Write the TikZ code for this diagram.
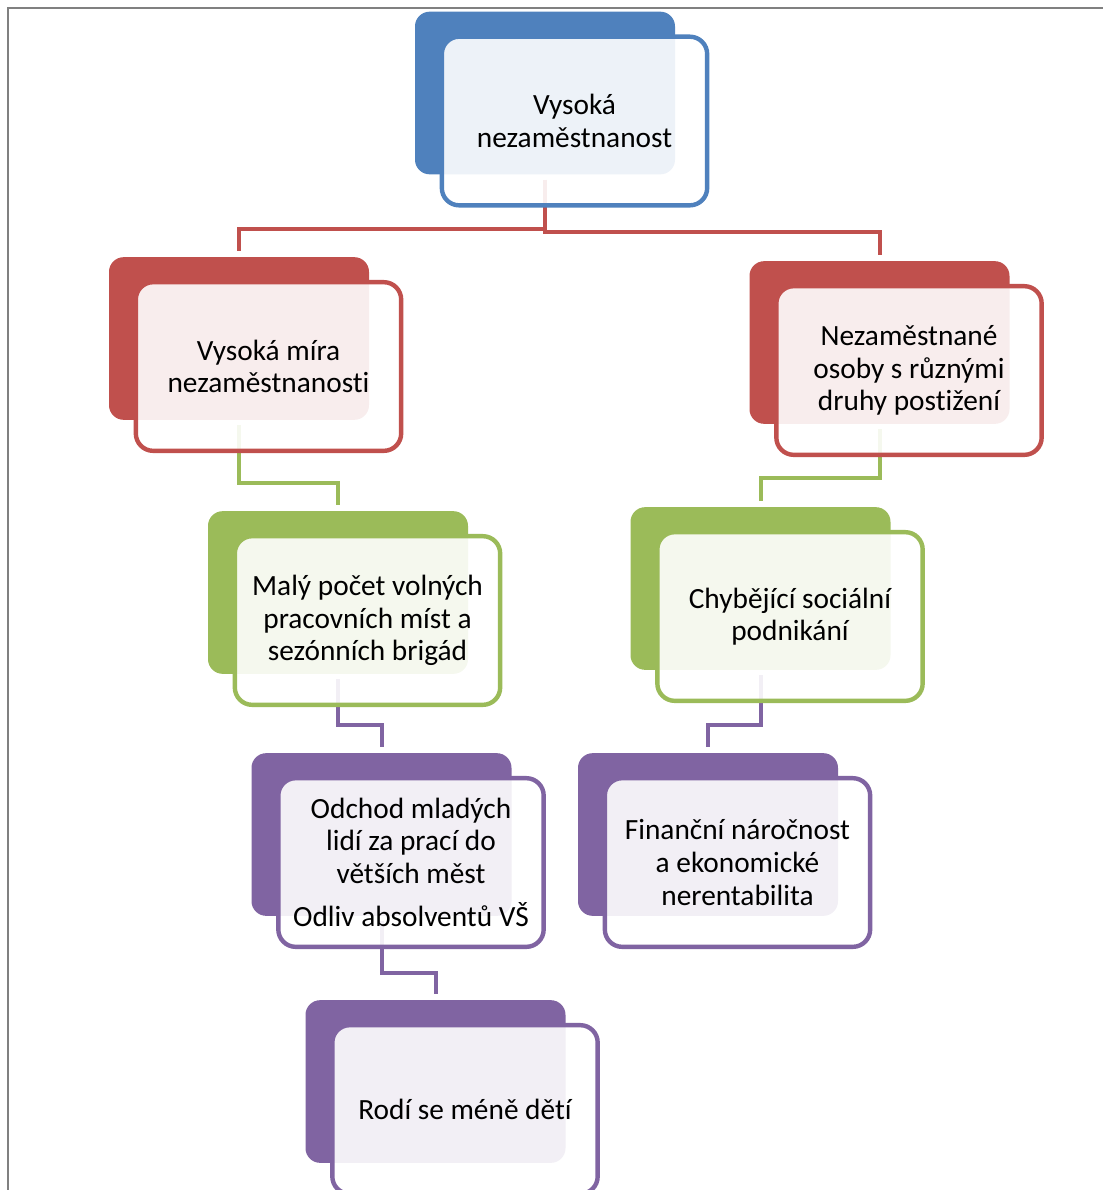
\documentclass[tikz,border=0pt]{standalone}
\usepackage{fontspec}
\setmainfont{Carlito}[Ligatures=NoCommon]
\definecolor{hblue}{HTML}{4F81BD}
\definecolor{hred}{HTML}{C0504D}
\definecolor{hgreen}{HTML}{9BBB59}
\definecolor{hpurple}{HTML}{8064A2}
\begin{document}
\begin{tikzpicture}[x=0.75pt,y=-0.75pt,
    back/.style={fill=#1,rounded corners=11pt,minimum width=195pt,minimum height=122pt,inner sep=0pt},
    front/.style={draw=#1,fill=white,fill opacity=0.9,text opacity=1,line width=3.3pt,rounded corners=13pt,
      minimum width=199pt,minimum height=126.5pt,inner sep=0pt,align=center,
      font=\fontsize{22}{24.4}\selectfont},
    link/.style={draw=#1,line width=3pt,shorten <=4pt,shorten >=4.5pt}]
  \useasboundingbox (0,0) rectangle (1103,1190);
  \draw[gray,line width=1.5pt] (7.5,1190) -- (7.5,8) -- (1103,8);
  % back boxes
  \node[back=hblue]   (vn-b) at (545,93) {};
  \node[back=hred]    (vm-b) at (239,338.5) {};
  \node[back=hred]    (no-b) at (879.5,342.5) {};
  \node[back=hgreen]  (mp-b) at (338,592.5) {};
  \node[back=hgreen]  (cs-b) at (760.5,588.5) {};
  \node[back=hpurple] (om-b) at (381.5,834.5) {};
  \node[back=hpurple] (fn-b) at (708,834.5) {};
  \node[back=hpurple] (rd-b) at (435.5,1081.5) {};
  % links
  \path[link=hred]    (vn-b.south) -- (vn-b.south |- 0,229) -| (vm-b.north);
  \path[link=hred]    (vn-b.south) -- (vn-b.south |- 0,232) -| (no-b.north);
  \path[link=hgreen]  (vm-b.south) -- (vm-b.south |- 0,483) -| (mp-b.north);
  \path[link=hgreen]  (no-b.south) -- (no-b.south |- 0,478) -| (cs-b.north);
  \path[link=hpurple] (mp-b.south) -- (mp-b.south |- 0,725) -| (om-b.north);
  \path[link=hpurple] (cs-b.south) -- (cs-b.south |- 0,725) -| (fn-b.north);
  \path[link=hpurple] (om-b.south) -- (om-b.south |- 0,973) -| (rd-b.north);
  % front boxes
  \node[front=hblue]   (vn) at ([shift={(29.5,28)}]vn-b.center) {Vysoká\\nezaměstnanost};
  \node[front=hred]    (vm) at ([shift={(29.5,28)}]vm-b.center) {Vysoká míra\\nezaměstnanosti};
  \node[front=hred]    (no) at ([shift={(29.5,28)}]no-b.center) {Nezaměstnané\\osoby s různými\\druhy postižení};
  \node[front=hgreen]  (mp) at ([shift={(29.5,28)}]mp-b.center) {Malý počet volných\\pracovních míst a\\sezónních brigád};
  \node[front=hgreen]  (cs) at ([shift={(29.5,28)}]cs-b.center) {Chybějící sociální\\podnikání};
  \node[front=hpurple] (om) at ([shift={(29.5,28)}]om-b.center) {Odchod mladých\\lidí za prací do\\větších měst\\[8pt]Odliv absolventů VŠ};
  \node[front=hpurple] (fn) at ([shift={(29.5,28)}]fn-b.center) {Finanční náročnost\\a ekonomické\\nerentabilita};
  \node[front=hpurple] (rd) at ([shift={(29.5,28)}]rd-b.center) {Rodí se méně dětí};
\end{tikzpicture}
\end{document}
